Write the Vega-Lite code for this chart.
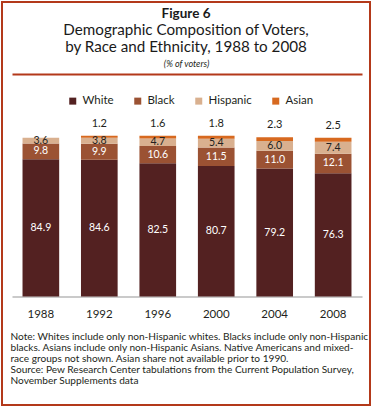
{
  "$schema": "https://vega.github.io/schema/vega-lite/v6.json",
  "width": 368,
  "height": 403,
  "padding": 2,
  "autosize": {"type": "none"},
  "background": "white",
  "config": {
    "view": {"stroke": "#B3391A", "strokeWidth": 2},
    "font": "Lato",
    "text": {"font": "Lato"}
  },
  "title": {
    "text": "Figure 6",
    "subtitle": ["Demographic Composition of Voters,", "by Race and Ethnicity, 1988 to 2008"],
    "anchor": "middle",
    "orient": "top",
    "offset": -53.5,
    "font": "Lato",
    "fontSize": 13.5,
    "fontWeight": "bold",
    "color": "#1a1a1a",
    "subtitleFont": "Lato",
    "subtitleFontSize": 15.2,
    "subtitleColor": "#1a1a1a",
    "subtitleLineHeight": 17.2,
    "subtitlePadding": 2.5
  },
  "data": {
    "values": [
      {"year": "1988", "race": "White", "k": 1, "value": 84.9},
      {"year": "1988", "race": "Black", "k": 2, "value": 9.8},
      {"year": "1988", "race": "Hispanic", "k": 3, "value": 3.6},
      {"year": "1992", "race": "White", "k": 1, "value": 84.6},
      {"year": "1992", "race": "Black", "k": 2, "value": 9.9},
      {"year": "1992", "race": "Hispanic", "k": 3, "value": 3.8},
      {"year": "1992", "race": "Asian", "k": 4, "value": 1.2},
      {"year": "1996", "race": "White", "k": 1, "value": 82.5},
      {"year": "1996", "race": "Black", "k": 2, "value": 10.6},
      {"year": "1996", "race": "Hispanic", "k": 3, "value": 4.7},
      {"year": "1996", "race": "Asian", "k": 4, "value": 1.6},
      {"year": "2000", "race": "White", "k": 1, "value": 80.7},
      {"year": "2000", "race": "Black", "k": 2, "value": 11.5},
      {"year": "2000", "race": "Hispanic", "k": 3, "value": 5.4},
      {"year": "2000", "race": "Asian", "k": 4, "value": 1.8},
      {"year": "2004", "race": "White", "k": 1, "value": 79.2},
      {"year": "2004", "race": "Black", "k": 2, "value": 11.0},
      {"year": "2004", "race": "Hispanic", "k": 3, "value": 6.0},
      {"year": "2004", "race": "Asian", "k": 4, "value": 2.3},
      {"year": "2008", "race": "White", "k": 1, "value": 76.3},
      {"year": "2008", "race": "Black", "k": 2, "value": 12.1},
      {"year": "2008", "race": "Hispanic", "k": 3, "value": 7.4},
      {"year": "2008", "race": "Asian", "k": 4, "value": 2.5}
    ]
  },
  "transform": [
    {"stack": "value", "groupby": ["year"], "sort": [{"field": "k", "order": "ascending"}], "as": ["y0", "y1"]}
  ],
  "encoding": {
    "x": {
      "field": "year",
      "type": "ordinal",
      "scale": {"range": [10, 360], "paddingInner": 0.373, "paddingOuter": 0.18},
      "axis": {
        "orient": "bottom",
        "offset": -108.5,
        "labelAngle": 0,
        "labelFont": "Lato",
        "labelFontSize": 11.5,
        "labelColor": "#231F20",
        "labelPadding": 12,
        "ticks": false,
        "domainColor": "#B8B8B8",
        "domainWidth": 1.3,
        "title": [
          "Note: Whites include only non-Hispanic whites.  Blacks include only non-Hispanic",
          "blacks. Asians include only non-Hispanic Asians. Native Americans and mixed-",
          "race groups not shown. Asian share not available prior to 1990.",
          "Source: Pew Research Center tabulations from the Current Population Survey,",
          "November Supplements data"
        ],
        "titleFont": "Lato",
        "titleFontSize": 10.1,
        "titleFontWeight": "normal",
        "titleColor": "#231F20",
        "titleAlign": "left",
        "titleAnchor": "start",
        "titleBaseline": "top",
        "titleX": 8,
        "titleY": 34.5,
        "titleLineHeight": 11,
        "titleLimit": 400
      }
    }
  },
  "layer": [
    {
      "mark": {"type": "bar"},
      "encoding": {
        "y": {
          "field": "y0",
          "type": "quantitative",
          "scale": {"domain": [-67.14, 182.24], "nice": false, "zero": false},
          "axis": {
            "values": [137.7],
            "grid": true,
            "gridColor": "#B3391A",
            "gridWidth": 2,
            "gridOpacity": 1,
            "domain": false,
            "ticks": false,
            "labels": false,
            "title": "(% of voters)",
            "titleAngle": 0,
            "titleFont": "Lato",
            "titleFontStyle": "italic",
            "titleFontWeight": "normal",
            "titleFontSize": 9,
            "titleColor": "#231F20",
            "titleAlign": "center",
            "titleBaseline": "middle",
            "titleX": 184,
            "titleY": 61
          }
        },
        "y2": {"field": "y1"},
        "color": {
          "field": "race",
          "type": "nominal",
          "scale": {
            "domain": ["White", "Black", "Hispanic", "Asian"],
            "range": ["#532121", "#9B5233", "#D9B08F", "#D7691F"]
          },
          "legend": {
            "orient": "none",
            "legendX": 65,
            "legendY": 93,
            "direction": "horizontal",
            "columns": 4,
            "title": null,
            "symbolType": "square",
            "symbolSize": 49,
            "symbolStrokeWidth": 0,
            "labelFont": "Lato",
            "labelFontSize": 11.5,
            "labelColor": "#231F20",
            "labelOffset": 4,
            "columnPadding": 18
          }
        }
      }
    },
    {
      "transform": [
        {"filter": "datum.race !== 'Asian'"},
        {"fold": ["y0", "y1"], "as": ["edge", "pos"]},
        {"aggregate": [{"op": "mean", "field": "pos", "as": "mid"}], "groupby": ["year", "race", "value"]}
      ],
      "mark": {"type": "text", "fontSize": 10.5, "baseline": "middle", "font": "Lato"},
      "encoding": {
        "y": {"field": "mid", "type": "quantitative"},
        "text": {"field": "value", "type": "quantitative", "format": ".1f"},
        "color": {
          "condition": {"test": "datum.race === 'Hispanic'", "value": "#231F20"},
          "value": "#FFFFFF"
        }
      }
    },
    {
      "transform": [{"filter": "datum.race === 'Asian'"}],
      "mark": {"type": "text", "fontSize": 11, "baseline": "middle", "dy": -12, "color": "#231F20", "font": "Lato"},
      "encoding": {
        "y": {"field": "y1", "type": "quantitative"},
        "text": {"field": "value", "type": "quantitative", "format": ".1f"}
      }
    }
  ]
}
